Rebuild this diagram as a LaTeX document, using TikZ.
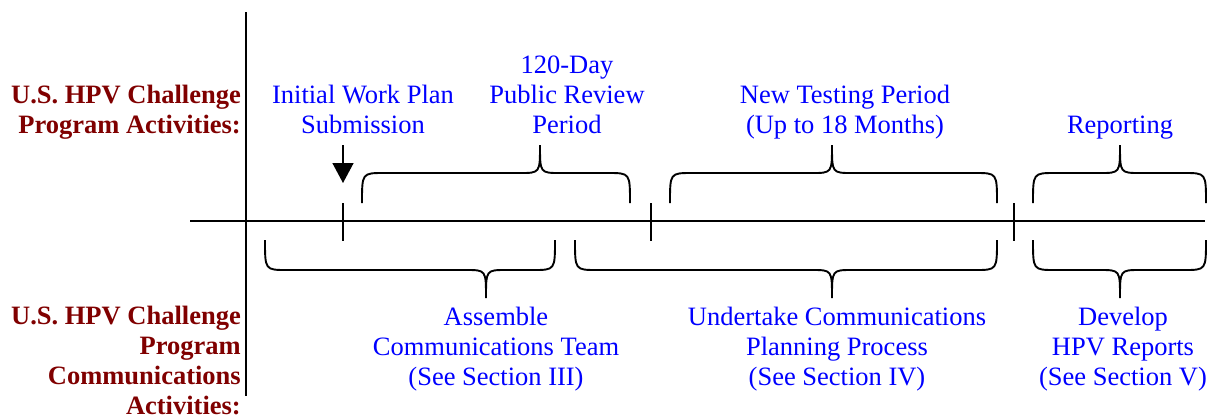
\documentclass[tikz,border=0pt]{standalone}
\usepackage{fontspec}
\setmainfont{Liberation Serif}
\usetikzlibrary{arrows.meta}
\definecolor{hdrred}{HTML}{800000}
\definecolor{lblblue}{HTML}{0000FF}

% curly brace: x-left, x-peak, x-right, y-ends, y-flat, y-peak
\newcommand\timebrace[6]{%
  \draw[brace] (#1,#4) .. controls (#1,#5) .. (#1+22,#5) -- (#2-20,#5)
    .. controls (#2,#5) .. (#2,#6) .. controls (#2,#5) .. (#2+20,#5)
    -- (#3-22,#5) .. controls (#3,#5) .. (#3,#4);}

\begin{document}
\begin{tikzpicture}[x=1pt,y=-1pt,
  axis/.style={line width=1.9pt},
  tick/.style={line width=1.9pt},
  brace/.style={line width=1.9pt},
  lbl/.style={text=lblblue, font=\fontsize{26.5}{30}\selectfont, align=center, inner sep=0pt, anchor=base},
  hdr/.style={text=hdrred, font=\fontsize{26.5}{30}\selectfont\bfseries, align=right, inner sep=0pt, anchor=base east}]
\useasboundingbox (0,0) rectangle (1216,418);

% axes
\coordinate (vtop) at (246,12);
\coordinate (vbot) at (246,396);
\coordinate (hleft) at (190,221);
\coordinate (hright) at (1205,221);
\draw[axis] (vtop) -- (vbot);
\draw[axis] (hleft) -- (hright);

% milestones
\foreach \x/\n in {343/t1, 651/t2, 1014/t3} {
  \coordinate (\n top) at (\x,203);
  \coordinate (\n bot) at (\x,241);
  \draw[tick] (\n top) -- (\n bot);
}

% submission arrow
\coordinate (arrstart) at (343,145);
\coordinate (arrend) at (343,183);
\draw[line width=1.5pt, -{Triangle[width=21pt,length=20pt]}] (arrstart) -- (arrend);

% program activity braces
\timebrace{362}{540}{630}{203}{173}{145}
\timebrace{670}{832}{997}{203}{173}{145}
\timebrace{1033}{1120}{1206}{203}{173}{145}

% communications activity braces
\timebrace{265}{486}{555}{240}{270}{298}
\timebrace{575}{832}{997}{240}{270}{298}
\timebrace{1033}{1120}{1206}{240}{270}{298}

% row headings (base anchor sits on the last line)
\node[hdr] (hdrprog) at (241,133) {U.S. HPV Challenge\\Program Activities:};
\node[hdr] (hdrcomm) at (241,414) {U.S. HPV Challenge\\Program\\Communications\\Activities:};

% program activities
\node[lbl] (plan) at (363,133) {Initial Work Plan\\Submission};
\node[lbl] (review) at (567,133) {120-Day\\Public Review\\Period};
\node[lbl] (testing) at (845,133) {New Testing Period\\(Up to 18 Months)};
\node[lbl] (report) at (1120,133) {Reporting};

% communications activities
\node[lbl] (team) at (496,385) {Assemble\\Communications Team\\(See Section III)};
\node[lbl] (process) at (837,385) {Undertake Communications\\Planning Process\\(See Section IV)};
\node[lbl] (develop) at (1123,385) {Develop\\HPV Reports\\(See Section V)};
\end{tikzpicture}
\end{document}
